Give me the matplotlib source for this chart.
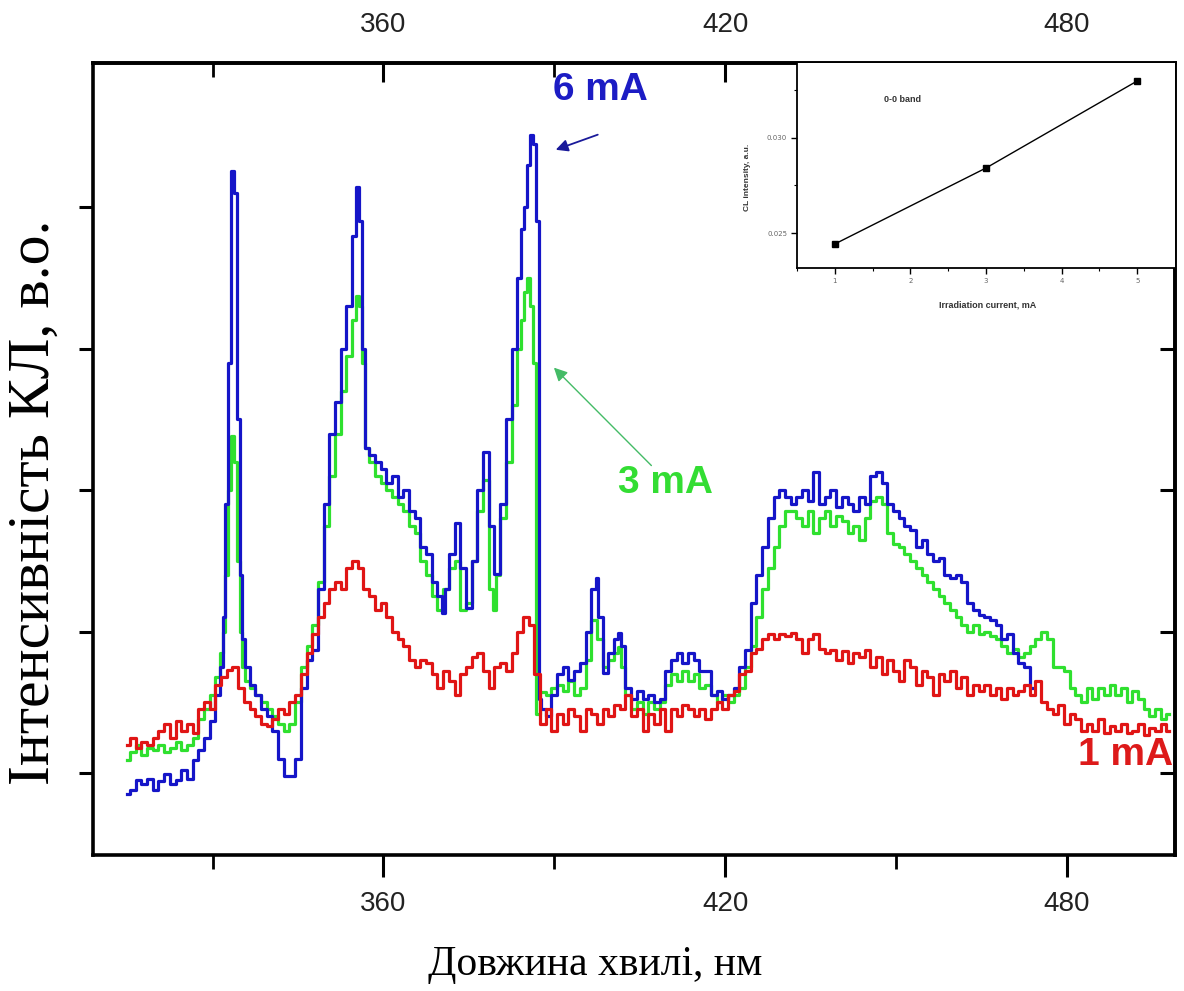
import matplotlib.pyplot as plt
from matplotlib.ticker import FixedLocator, MultipleLocator, FormatStrFormatter, NullFormatter

# CL spectra: (wavelength nm, intensity a.u.)
spec_6ma = [
    (315, 0.85), (316, 0.88), (317, 0.95), (318, 0.92), (319, 0.96), (320, 0.88), (321, 0.94),
    (322, 0.99), (323, 0.92), (324, 0.95), (325, 1.02), (326, 0.96), (327, 1.09), (328, 1.16),
    (329, 1.25), (330, 1.37), (331, 1.55), (331.5, 1.75), (332, 2.1), (332.5, 2.9), (333, 3.9),
    (333.5, 5.26), (334, 5.1), (334.5, 3.5), (335, 2.4), (335.5, 1.95), (336, 1.75), (337, 1.62),
    (338, 1.55), (339, 1.45), (340, 1.40), (341, 1.30), (342, 1.10), (343, 0.98), (344, 0.98),
    (345, 1.10), (346, 1.60), (347, 1.80), (348, 1.87), (349, 2.3), (350, 2.9), (351, 3.4),
    (352, 3.62), (353, 4.0), (354, 4.3), (355, 4.8), (355.5, 5.14), (356, 4.9), (356.5, 4.0),
    (357, 3.3), (358, 3.25), (359, 3.2), (360, 3.15), (361, 3.05), (362, 3.1), (363, 2.95),
    (364, 3.0), (365, 2.85), (366, 2.8), (367, 2.6), (368, 2.55), (369, 2.35), (370, 2.25),
    (370.5, 2.13), (371, 2.3), (372, 2.55), (373, 2.77), (374, 2.45), (375, 2.17), (376, 2.5),
    (377, 3.0), (378, 3.27), (379, 2.75), (380, 2.41), (381, 2.9), (382, 3.5), (383, 4.0),
    (384, 4.5), (384.5, 4.85), (385, 5.0), (385.5, 5.3), (386, 5.51), (386.5, 5.45), (387, 4.9),
    (387.5, 1.52), (388, 1.45), (389, 1.40), (390, 1.55), (391, 1.70), (392, 1.75), (393, 1.66),
    (394, 1.72), (395, 1.78), (396, 2.0), (397, 2.3), (397.5, 2.38), (398, 2.1), (399, 1.71),
    (400, 1.85), (401, 1.95), (401.5, 1.99), (402, 1.9), (403, 1.6), (404, 1.52), (405, 1.58),
    (406, 1.52), (407, 1.55), (408, 1.50), (409, 1.52), (410, 1.72), (411, 1.80), (412, 1.85),
    (413, 1.78), (414, 1.85), (415, 1.80), (416, 1.72), (417, 1.72), (418, 1.55), (419, 1.58),
    (420, 1.52), (421, 1.55), (422, 1.60), (423, 1.75), (424, 1.87), (425, 2.2), (426, 2.4),
    (427, 2.6), (428, 2.8), (429, 2.95), (430, 3.0), (431, 2.95), (432, 2.9), (433, 2.95),
    (434, 3.0), (435, 2.92), (436, 3.13), (437, 2.9), (438, 2.95), (439, 3.0), (440, 2.88),
    (441, 2.95), (442, 2.9), (443, 2.85), (444, 2.95), (445, 2.9), (446, 3.1), (447, 3.13),
    (448, 3.05), (449, 2.9), (450, 2.85), (451, 2.8), (452, 2.75), (453, 2.72), (454, 2.6),
    (455, 2.65), (456, 2.55), (457, 2.5), (458, 2.52), (459, 2.4), (460, 2.38), (461, 2.4),
    (462, 2.35), (463, 2.2), (464, 2.15), (465, 2.12), (466, 2.1), (467, 2.08), (468, 2.05),
    (469, 1.95), (470, 1.98), (471, 1.85), (472, 1.78), (473, 1.75), (474, 1.6),
]

spec_3ma = [
    (315, 1.09), (316, 1.15), (317, 1.20), (318, 1.13), (319, 1.18), (320, 1.16), (321, 1.20),
    (322, 1.15), (323, 1.18), (324, 1.22), (325, 1.16), (326, 1.20), (327, 1.25), (328, 1.38),
    (329, 1.45), (330, 1.55), (331, 1.68), (331.5, 1.85), (332, 2.0), (332.5, 2.4), (333, 3.0),
    (333.5, 3.38), (334, 3.2), (334.5, 2.5), (335, 2.0), (335.5, 1.75), (336, 1.65), (337, 1.60),
    (338, 1.55), (339, 1.50), (340, 1.45), (341, 1.40), (342, 1.35), (343, 1.30), (344, 1.35),
    (345, 1.50), (346, 1.75), (347, 1.90), (348, 2.05), (349, 2.35), (350, 2.75), (351, 3.1),
    (352, 3.4), (353, 3.7), (354, 3.95), (355, 4.2), (355.5, 4.37), (356, 4.3), (356.5, 3.9),
    (357, 3.3), (358, 3.2), (359, 3.1), (360, 3.05), (361, 3.0), (362, 2.95), (363, 2.9),
    (364, 2.85), (365, 2.75), (366, 2.7), (367, 2.5), (368, 2.4), (369, 2.25), (370, 2.15),
    (371, 2.3), (372, 2.45), (373, 2.5), (374, 2.15), (375, 2.2), (376, 2.5), (377, 2.85),
    (378, 3.07), (379, 2.3), (379.5, 2.15), (380, 2.4), (381, 2.8), (382, 3.2), (383, 3.6),
    (384, 4.0), (384.5, 4.2), (385, 4.4), (385.5, 4.5), (386, 4.3), (386.5, 3.9), (387, 1.42),
    (388, 1.57), (389, 1.55), (390, 1.60), (391, 1.62), (392, 1.58), (393, 1.65), (394, 1.55),
    (395, 1.60), (396, 1.80), (397, 2.08), (398, 1.95), (399, 1.75), (400, 1.80), (401, 1.85),
    (401.5, 1.89), (402, 1.75), (403, 1.55), (404, 1.45), (405, 1.50), (406, 1.42), (407, 1.50),
    (408, 1.45), (409, 1.50), (410, 1.62), (411, 1.70), (412, 1.65), (413, 1.72), (414, 1.65),
    (415, 1.70), (416, 1.60), (417, 1.62), (418, 1.55), (419, 1.50), (420, 1.55), (421, 1.50),
    (422, 1.55), (423, 1.60), (424, 1.75), (425, 1.90), (426, 2.10), (427, 2.30), (428, 2.45),
    (429, 2.60), (430, 2.75), (431, 2.85), (432, 2.85), (433, 2.80), (434, 2.75), (435, 2.85),
    (436, 2.70), (437, 2.80), (438, 2.85), (439, 2.75), (440, 2.82), (441, 2.78), (442, 2.70),
    (443, 2.75), (444, 2.65), (445, 2.80), (446, 2.92), (447, 2.95), (448, 2.90), (449, 2.70),
    (450, 2.62), (451, 2.60), (452, 2.55), (453, 2.50), (454, 2.45), (455, 2.40), (456, 2.35),
    (457, 2.30), (458, 2.25), (459, 2.20), (460, 2.15), (461, 2.10), (462, 2.05), (463, 2.00),
    (464, 2.05), (465, 1.98), (466, 2.00), (467, 1.97), (468, 1.95), (469, 1.90), (470, 1.85),
    (471, 1.88), (472, 1.82), (473, 1.85), (474, 1.90), (475, 1.95), (476, 2.00), (477, 1.95),
    (478, 1.75), (479, 1.75), (480, 1.72), (481, 1.60), (482, 1.55), (483, 1.50), (484, 1.60),
    (485, 1.52), (486, 1.60), (487, 1.55), (488, 1.62), (489, 1.55), (490, 1.60), (491, 1.50),
    (492, 1.58), (493, 1.52), (494, 1.45), (495, 1.40), (496, 1.45), (497, 1.38), (498, 1.42),
]

spec_1ma = [
    (315, 1.20), (316, 1.25), (317, 1.18), (318, 1.22), (319, 1.20), (320, 1.25), (321, 1.30),
    (322, 1.35), (323, 1.25), (324, 1.37), (325, 1.30), (326, 1.35), (327, 1.28), (328, 1.45),
    (329, 1.50), (330, 1.45), (331, 1.62), (332, 1.68), (333, 1.73), (334, 1.75), (335, 1.60),
    (336, 1.50), (337, 1.45), (338, 1.40), (339, 1.35), (340, 1.33), (341, 1.38), (342, 1.45),
    (343, 1.42), (344, 1.50), (345, 1.55), (346, 1.70), (347, 1.85), (348, 1.98), (349, 2.10),
    (350, 2.20), (351, 2.30), (352, 2.35), (353, 2.30), (354, 2.45), (355, 2.50), (356, 2.45),
    (357, 2.30), (358, 2.25), (359, 2.15), (360, 2.20), (361, 2.10), (362, 2.00), (363, 1.95),
    (364, 1.90), (365, 1.80), (366, 1.75), (367, 1.80), (368, 1.78), (369, 1.70), (370, 1.60),
    (371, 1.72), (372, 1.65), (373, 1.55), (374, 1.70), (375, 1.75), (376, 1.82), (377, 1.85),
    (378, 1.72), (379, 1.60), (380, 1.75), (381, 1.78), (382, 1.72), (383, 1.85), (384, 2.00),
    (385, 2.10), (386, 2.05), (387, 1.70), (388, 1.35), (389, 1.45), (390, 1.30), (391, 1.42),
    (392, 1.35), (393, 1.45), (394, 1.40), (395, 1.30), (396, 1.45), (397, 1.42), (398, 1.35),
    (399, 1.45), (400, 1.40), (401, 1.48), (402, 1.45), (403, 1.55), (404, 1.40), (405, 1.45),
    (406, 1.30), (407, 1.42), (408, 1.35), (409, 1.45), (410, 1.30), (411, 1.45), (412, 1.40),
    (413, 1.48), (414, 1.45), (415, 1.40), (416, 1.45), (417, 1.38), (418, 1.45), (419, 1.50),
    (420, 1.45), (421, 1.55), (422, 1.58), (423, 1.70), (424, 1.72), (425, 1.85), (426, 1.88),
    (427, 1.95), (428, 1.98), (429, 1.95), (430, 1.98), (431, 1.97), (432, 1.99), (433, 1.95),
    (434, 1.85), (435, 1.95), (436, 1.98), (437, 1.88), (438, 1.85), (439, 1.87), (440, 1.80),
    (441, 1.86), (442, 1.78), (443, 1.85), (444, 1.82), (445, 1.87), (446, 1.75), (447, 1.82),
    (448, 1.70), (449, 1.80), (450, 1.72), (451, 1.65), (452, 1.80), (453, 1.75), (454, 1.62),
    (455, 1.72), (456, 1.68), (457, 1.55), (458, 1.70), (459, 1.65), (460, 1.72), (461, 1.60),
    (462, 1.68), (463, 1.55), (464, 1.62), (465, 1.58), (466, 1.62), (467, 1.55), (468, 1.60),
    (469, 1.52), (470, 1.60), (471, 1.55), (472, 1.58), (473, 1.62), (474, 1.55), (475, 1.65),
    (476, 1.50), (477, 1.45), (478, 1.42), (479, 1.48), (480, 1.35), (481, 1.42), (482, 1.38),
    (483, 1.30), (484, 1.35), (485, 1.30), (486, 1.38), (487, 1.28), (488, 1.33), (489, 1.30),
    (490, 1.35), (491, 1.28), (492, 1.30), (493, 1.35), (494, 1.27), (495, 1.32), (496, 1.30),
    (497, 1.35), (498, 1.30),
]

# inset: 0-0 band intensity vs irradiation current
inset_current = [1, 3, 5]
inset_intensity = [0.02442, 0.02842, 0.0330]

wl_major = [360, 420, 480]
wl_minor = [330, 390, 450]
y_ticks = [1, 2, 3, 4, 5]

series = [
    (spec_3ma, '#2fe02f', 2),
    (spec_6ma, '#1515c8', 3),
    (spec_1ma, '#e01515', 4),
]

sans = 'Liberation Sans'
serif = 'Liberation Serif'

fig = plt.figure(figsize=(11.84, 9.91), dpi=100)
ax = fig.add_axes([0.0785, 0.1372, 0.9139, 0.7992])

for pts, col, z in series:
    xs = [p[0] for p in pts]
    ys = [p[1] for p in pts]
    ax.plot(xs, ys, color=col, lw=2.3, drawstyle='steps-mid', zorder=z)

ax.set_xlim(309, 499)
ax.set_ylim(0.42, 6.02)
for s in ax.spines.values():
    s.set_linewidth(2.6)

ax.xaxis.set_major_locator(FixedLocator(wl_major))
ax.xaxis.set_minor_locator(FixedLocator(wl_minor))
ax.yaxis.set_major_locator(FixedLocator(y_ticks))
ax.yaxis.set_major_formatter(NullFormatter())
ax.tick_params(axis='x', which='major', direction='out', length=16, width=2.2, pad=10,
               labelsize=20, labelcolor='#222222')
ax.tick_params(axis='x', which='minor', direction='out', length=10, width=2)
ax.tick_params(axis='y', which='major', direction='out', length=10, width=2.2)
for lab in ax.get_xticklabels():
    lab.set_family(sans)

top = ax.secondary_xaxis('top')
top.xaxis.set_major_locator(FixedLocator(wl_major))
top.xaxis.set_minor_locator(FixedLocator(wl_minor))
top.tick_params(which='major', direction='in', length=14, width=2.2, pad=18,
                labelsize=20, labelcolor='#222222')
top.tick_params(which='minor', direction='in', length=10, width=2)
top.spines['top'].set_linewidth(2.6)
for lab in top.get_xticklabels():
    lab.set_family(sans)

right = ax.secondary_yaxis('right')
right.yaxis.set_major_locator(FixedLocator(y_ticks))
right.yaxis.set_major_formatter(NullFormatter())
right.tick_params(direction='in', length=11, width=2.2)
right.spines['right'].set_linewidth(2.6)

# curve labels and arrows
ax.text(398.1, 5.83, '6 mA', color='#1c1cc4', fontsize=28, fontweight='bold',
        family=sans, ha='center', va='center', zorder=6)
ax.text(409.5, 3.05, '3 mA', color='#33dd33', fontsize=28, fontweight='bold',
        family=sans, ha='center', va='center', zorder=6)
ax.text(498.6, 1.13, '1 mA', color='#dd1a1a', fontsize=28, fontweight='bold',
        family=sans, ha='right', va='center', zorder=6)
ax.annotate('', xy=(389.8, 5.40), xytext=(398.1, 5.52),
            arrowprops=dict(arrowstyle='-|>', color='#1a1a9a', lw=1.3, mutation_scale=18))
ax.annotate('', xy=(389.6, 3.88), xytext=(407.4, 3.16),
            arrowprops=dict(arrowstyle='-|>', color='#44bb66', lw=1.0, mutation_scale=20))

fig.text(0.5025, 0.026, 'Довжина хвилі, нм', fontsize=30, family=serif,
         ha='center', va='center')
fig.text(0.029, 0.4934, 'Інтенсивність КЛ, в.о.', fontsize=43, family=serif,
         rotation=90, ha='center', va='center')

# inset
axi = fig.add_axes([0.6731, 0.7296, 0.3193, 0.2069], zorder=10)
axi.plot(inset_current, inset_intensity, color='black', lw=1.0, marker='s',
         markersize=5)
axi.set_xlim(0.5, 5.5)
axi.set_ylim(0.02316, 0.03395)
axi.spines['top'].set_visible(False)
axi.spines['right'].set_visible(False)
axi.spines['left'].set_linewidth(1.3)
axi.spines['bottom'].set_linewidth(1.3)
axi.xaxis.set_major_locator(MultipleLocator(1))
axi.xaxis.set_minor_locator(MultipleLocator(0.5))
axi.yaxis.set_major_locator(MultipleLocator(0.005))
axi.yaxis.set_minor_locator(MultipleLocator(0.0025))
axi.yaxis.set_major_formatter(FormatStrFormatter('%.3f'))
axi.tick_params(which='major', length=4, width=1, labelsize=5, labelcolor='#666666', pad=3)
axi.tick_params(which='minor', length=2, width=0.8)
axi.text(0.505, -0.18, 'Irradiation current, mA', transform=axi.transAxes, fontsize=6.5,
         fontweight='bold', family=sans, ha='center', va='center', color='#333333')
axi.text(-0.132, 0.44, 'CL intensity, a.u.', transform=axi.transAxes, fontsize=6,
         fontweight='bold', family=sans, rotation=90, ha='center', va='center',
         color='#333333')
axi.text(1.9, 0.03205, '0-0 band', fontsize=6.5, fontweight='bold', family=sans,
         ha='center', va='center', color='#333333')

fig.savefig('out.png', dpi=100, facecolor='white')
